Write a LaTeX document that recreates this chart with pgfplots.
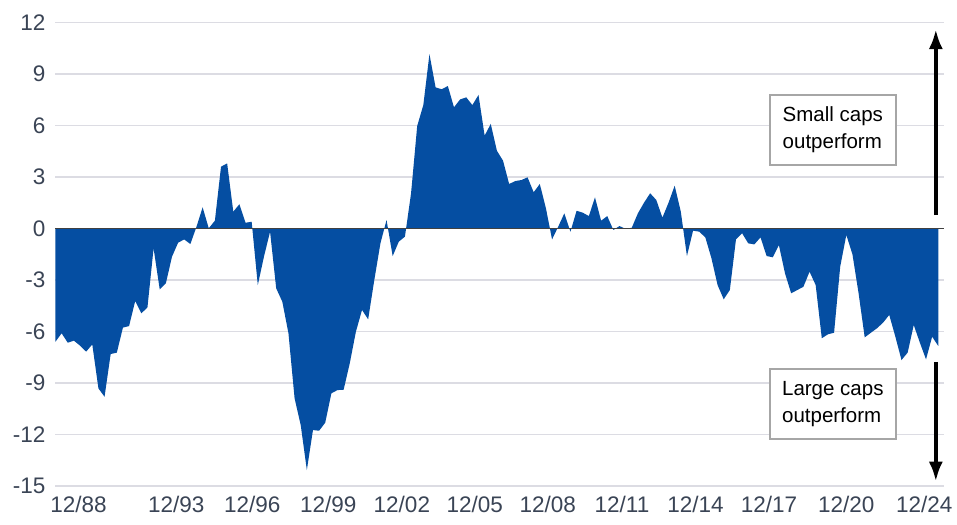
\documentclass[border=0pt]{standalone}
\usepackage{pgfplots}
\pgfplotsset{compat=1.18}
\usepackage{fontspec}
\setmainfont{Liberation Sans}
\usetikzlibrary{arrows.meta}
\definecolor{areablue}{HTML}{054EA2}
\definecolor{gridgray}{HTML}{DCDCE3}
\definecolor{ticktext}{HTML}{3A4455}
\definecolor{boxgray}{HTML}{A6A6A6}
\begin{document}
\begin{tikzpicture}
\begin{axis}[
  name=ax,
  scale only axis,
  width=888.9pt, height=463.3pt,
  xmin=0, xmax=145,
  ymin=-15, ymax=12,
  ytick={-15,-12,-9,-6,-3,0,3,6,9,12},
  xtick={3.75,19.7,32.1,44.5,56.5,68.4,80.3,92.4,104.4,116.4,129.0,141.7},
  xticklabels={12/88,12/93,12/96,12/99,12/02,12/05,12/08,12/11,12/14,12/17,12/20,12/24},
  /pgf/number format/assume math mode=true,
  ticklabel style={font=\fontsize{22.5}{26}\selectfont, text=ticktext},
  yticklabel style={xshift=-6.5pt},
  xticklabel style={yshift=-6.5pt},
  major tick length=0pt,
  axis line style={draw=none},
  ymajorgrids,
  grid style={gridgray, line width=1.5pt},
  clip=false,
]
\addplot[fill=areablue, draw=none] coordinates {
(0,-6.59) (1,-6.10) (2,-6.65) (3,-6.53) (4,-6.82) (5,-7.17) (6,-6.75) (7,-9.31) (8,-9.80) (9,-7.31)
(10,-7.23) (11,-5.77) (12,-5.68) (13,-4.22) (14,-4.94) (15,-4.59) (16,-1.15) (17,-3.54) (18,-3.19) (19,-1.64)
(20,-0.82) (21,-0.63) (22,-0.90) (23,0.11) (24,1.24) (25,0.02) (26,0.46) (27,3.61) (28,3.80) (29,0.99)
(30,1.42) (31,0.34) (32,0.40) (33,-3.29) (34,-1.64) (35,-0.18) (36,-3.48) (37,-4.26) (38,-6.10) (39,-9.89)
(40,-11.45) (41,-14.07) (42,-11.74) (43,-11.78) (44,-11.31) (45,-9.60) (46,-9.41) (47,-9.39) (48,-7.85) (49,-6.01)
(50,-4.74) (51,-5.29) (52,-3.00) (53,-0.86) (54,0.50) (55,-1.60) (56,-0.76) (57,-0.47) (58,2.06) (59,5.98)
(60,7.20) (61,10.17) (62,8.23) (63,8.12) (64,8.31) (65,7.07) (66,7.53) (67,7.65) (68,7.20) (69,7.79)
(70,5.42) (71,6.10) (72,4.54) (73,3.96) (74,2.60) (75,2.77) (76,2.83) (77,2.99) (78,2.12) (79,2.60)
(80,1.18) (81,-0.63) (82,0.11) (83,0.89) (84,-0.18) (85,1.04) (86,0.93) (87,0.73) (88,1.82) (89,0.46)
(90,0.73) (91,-0.08) (92,0.15) (93,-0.02) (94,0.05) (95,0.89) (96,1.51) (97,2.06) (98,1.67) (99,0.64)
(100,1.51) (101,2.50) (102,0.99) (103,-1.60) (104,-0.12) (105,-0.18) (106,-0.51) (107,-1.73) (108,-3.29) (109,-4.12)
(110,-3.58) (111,-0.63) (112,-0.27) (113,-0.86) (114,-0.92) (115,-0.51) (116,-1.60) (117,-1.67) (118,-0.96) (119,-2.61)
(120,-3.77) (121,-3.58) (122,-3.39) (123,-2.51) (124,-3.29) (125,-6.39) (126,-6.16) (127,-6.07) (128,-2.22) (129,-0.37)
(130,-1.50) (131,-3.77) (132,-6.34) (133,-6.07) (134,-5.81) (135,-5.48) (136,-5.03) (137,-6.30) (138,-7.66) (139,-7.23)
(140,-5.62) (141,-6.65) (142,-7.62) (143,-6.30) (144,-6.84)
} \closedcycle;
\draw[black!75, line width=1.5pt] (axis cs:0,0) -- (axis cs:145,0);
\draw[line width=4pt, -{Latex[length=20pt,width=14pt]}] (axis cs:143.6,0.79) -- (axis cs:143.6,11.63);
\draw[line width=4pt, -{Latex[length=20pt,width=14pt]}] (axis cs:143.6,-7.76) -- (axis cs:143.6,-14.75);
\node[draw=boxgray, line width=1.5pt, fill=white, minimum width=126pt, minimum height=70pt, align=left,
      font=\fontsize{20.5}{27}\selectfont, inner sep=0pt] at (axis cs:126.8,5.75) {Small caps\\outperform};
\node[draw=boxgray, line width=1.5pt, fill=white, minimum width=126pt, minimum height=70pt, align=left,
      font=\fontsize{20.5}{27}\selectfont, inner sep=0pt] at (axis cs:126.8,-10.23) {Large caps\\outperform};
\end{axis}
\pgfresetboundingbox
\path[use as bounding box] (ax.south west) ++(-55.5pt,-38pt) rectangle ++(957pt,524pt);
\end{tikzpicture}
\end{document}
